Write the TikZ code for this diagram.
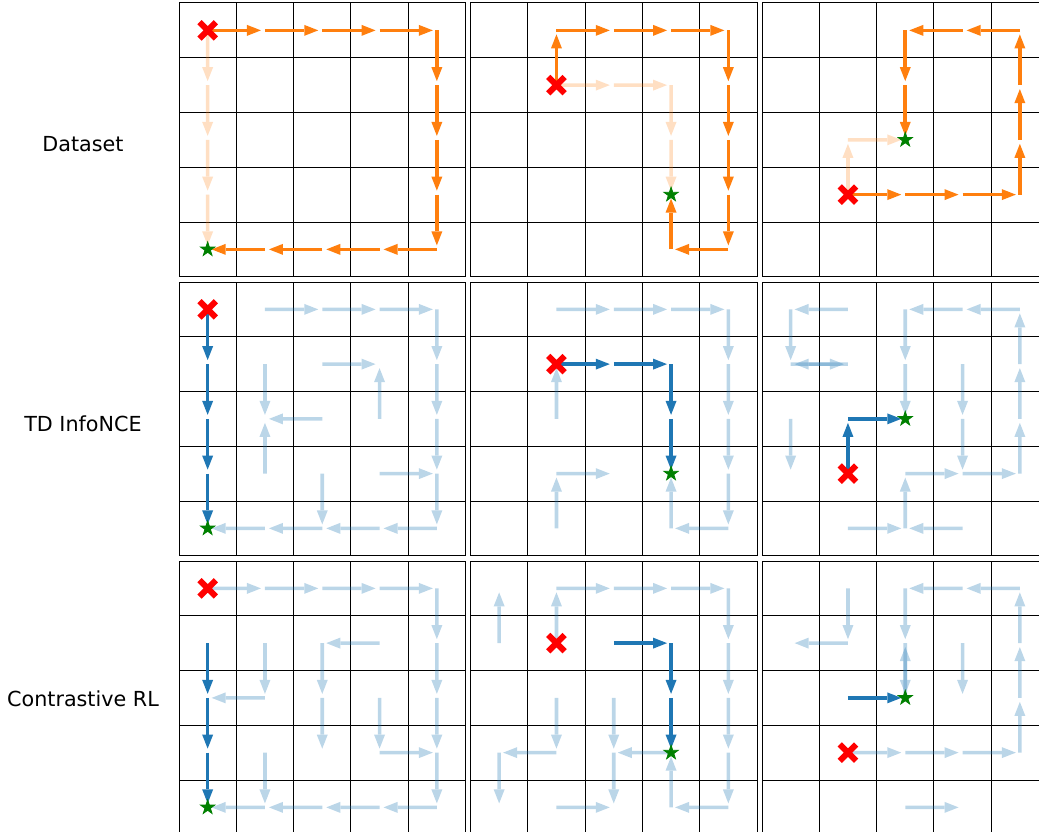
\documentclass[tikz,border=0pt]{standalone}
\usepackage{fontspec}
\setmainfont{DejaVu Sans}
\usetikzlibrary{arrows.meta,shapes.geometric,shapes.misc}
\definecolor{tabblue}{HTML}{1F77B4}
\definecolor{taborange}{HTML}{FF7F0E}
\definecolor{goalgreen}{HTML}{008000}
\tikzset{
    cell/.style={line width=1pt,line cap=rect},
    panel/.style 2 args={shift={(#1,#2)},x=57.3pt,y=-54.75pt},
    move/.style={-{Triangle[length=14pt,width=11pt,line width=0pt]},line width=3.6pt,shorten >=4pt},
    data/.style={move,draw=taborange},
    pol/.style={move,draw=tabblue},
    faint/.style={transparency group,opacity=#1},
    startmark/.style={cross out,draw=red,line width=6pt,minimum size=10.4pt,inner sep=0pt},
    goalmark/.style={star,star points=5,star point ratio=2.6,fill=goalgreen,draw=goalgreen,line width=.8pt,minimum size=15pt,inner sep=0pt},
    rowlabel/.style={anchor=base,font=\fontsize{20.7pt}{25pt}\selectfont}
}

\begin{document}
\begin{tikzpicture}[x=1pt,y=-1pt]
    \useasboundingbox (0,0) rectangle (1039,832);
    \clip (0,0) rectangle (1039,832);

    % grids and cell centres (p<row><col>-<x><y>)
    \foreach \row/\py in {1/3,2/282,3/561} {
        \foreach \col/\px in {1/179,2/470.5,3/762} {
            \begin{scope}[panel={\px}{\py}]
                \foreach \k in {0,...,5} {
                    \draw[cell] (\k,0) -- (\k,5);
                    \draw[cell] (0,\k) -- (5,\k);
                }
                \foreach \i in {0,...,4} \foreach \j in {0,...,4}
                    {\coordinate (p\row\col-\i\j) at (\i+.5,\j+.5);}
            \end{scope}
        }
    }

    % row labels
    \node[rowlabel] (lab1) at (83,151.7) {Dataset};
    \node[rowlabel] (lab2) at (83,431) {TD InfoNCE};
    \node[rowlabel] (lab3) at (83,706.5) {Contrastive RL};

    % dataset
    \foreach \u/\v in {00/01,01/02,02/03,03/04}
        {\begin{scope}[faint=.25]\draw[data] (p11-\u) -- (p11-\v);\end{scope}}
    \foreach \u/\v in {00/10,10/20,20/30,30/40,40/41,41/42,42/43,43/44,44/34,34/24,24/14,14/04}
        {\draw[data] (p11-\u) -- (p11-\v);}
    \node[startmark] (s11) at (p11-00) {};
    \node[goalmark] (g11) at (p11-04) {};

    \foreach \u/\v in {11/21,21/31,31/32,32/33}
        {\begin{scope}[faint=.25]\draw[data] (p12-\u) -- (p12-\v);\end{scope}}
    \foreach \u/\v in {11/10,10/20,20/30,30/40,40/41,41/42,42/43,43/44,44/34,34/33}
        {\draw[data] (p12-\u) -- (p12-\v);}
    \node[startmark] (s12) at (p12-11) {};
    \node[goalmark] (g12) at (p12-33) {};

    \foreach \u/\v in {13/12,12/22}
        {\begin{scope}[faint=.25]\draw[data] (p13-\u) -- (p13-\v);\end{scope}}
    \foreach \u/\v in {13/23,23/33,33/43,43/42,42/41,41/40,40/30,30/20,20/21,21/22}
        {\draw[data] (p13-\u) -- (p13-\v);}
    \node[startmark] (s13) at (p13-13) {};
    \node[goalmark] (g13) at (p13-22) {};

    % TD InfoNCE
    \foreach \u/\v in {10/20,20/30,30/40,40/41,41/42,42/43,43/44,44/34,34/24,24/14,14/04,
                       21/31,32/31,11/12,22/12,13/12,23/24,33/43}
        {\begin{scope}[faint=.3]\draw[pol] (p21-\u) -- (p21-\v);\end{scope}}
    \foreach \u/\v in {00/01,01/02,02/03,03/04}
        {\draw[pol] (p21-\u) -- (p21-\v);}
    \node[startmark] (s21) at (p21-00) {};
    \node[goalmark] (g21) at (p21-04) {};

    \foreach \u/\v in {10/20,20/30,30/40,40/41,41/42,42/43,43/44,44/34,34/33,
                       12/11,14/13,13/23}
        {\begin{scope}[faint=.3]\draw[pol] (p22-\u) -- (p22-\v);\end{scope}}
    \foreach \u/\v in {11/21,21/31,31/32,32/33}
        {\draw[pol] (p22-\u) -- (p22-\v);}
    \node[startmark] (s22) at (p22-11) {};
    \node[goalmark] (g22) at (p22-33) {};

    \foreach \u/\v in {10/00,00/01,01/11,11/01,02/03,20/21,21/22,40/30,30/20,43/42,42/41,41/40,
                       31/32,32/33,33/43,23/33,24/23,14/24,34/24}
        {\begin{scope}[faint=.3]\draw[pol] (p23-\u) -- (p23-\v);\end{scope}}
    \foreach \u/\v in {13/12,12/22}
        {\draw[pol] (p23-\u) -- (p23-\v);}
    \node[startmark] (s23) at (p23-13) {};
    \node[goalmark] (g23) at (p23-22) {};

    % Contrastive RL
    \foreach \u/\v in {00/10,10/20,20/30,30/40,40/41,41/42,42/43,43/44,44/34,34/24,24/14,14/04,
                       31/21,21/22,22/23,11/12,12/02,32/33,33/43,13/14}
        {\begin{scope}[faint=.3]\draw[pol] (p31-\u) -- (p31-\v);\end{scope}}
    \foreach \u/\v in {01/02,02/03,03/04}
        {\draw[pol] (p31-\u) -- (p31-\v);}
    \node[startmark] (s31) at (p31-00) {};
    \node[goalmark] (g31) at (p31-04) {};

    \foreach \u/\v in {01/00,11/10,10/20,20/30,30/40,40/41,41/42,42/43,43/44,44/34,34/33,
                       12/13,13/03,03/04,22/23,23/24,33/23,14/24}
        {\begin{scope}[faint=.3]\draw[pol] (p32-\u) -- (p32-\v);\end{scope}}
    \foreach \u/\v in {21/31,31/32,32/33}
        {\draw[pol] (p32-\u) -- (p32-\v);}
    \node[startmark] (s32) at (p32-11) {};
    \node[goalmark] (g32) at (p32-33) {};

    \foreach \u/\v in {10/11,11/01,20/21,21/22,22/21,40/30,30/20,43/42,42/41,41/40,
                       31/32,13/23,23/33,33/43,24/34}
        {\begin{scope}[faint=.3]\draw[pol] (p33-\u) -- (p33-\v);\end{scope}}
    \foreach \u/\v in {12/22}
        {\draw[pol] (p33-\u) -- (p33-\v);}
    \node[startmark] (s33) at (p33-13) {};
    \node[goalmark] (g33) at (p33-22) {};
\end{tikzpicture}
\end{document}
